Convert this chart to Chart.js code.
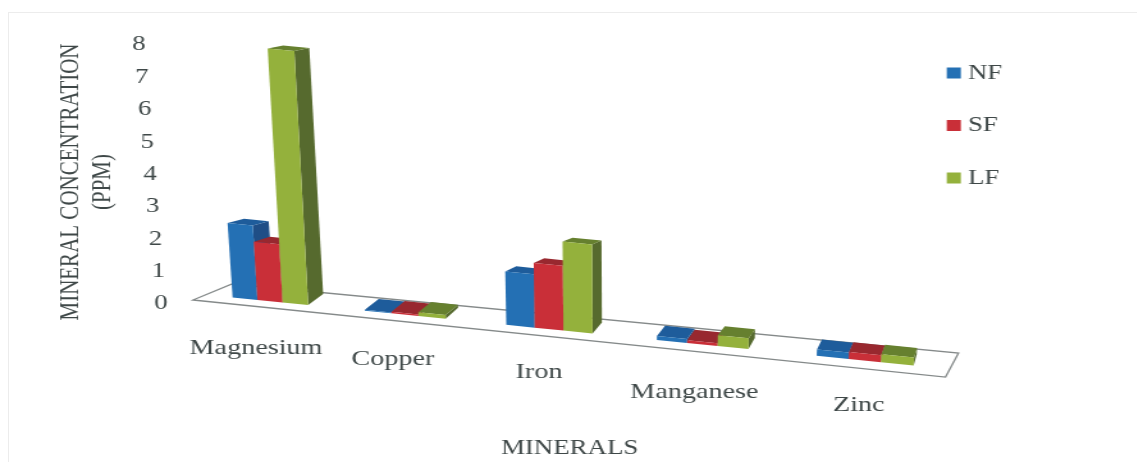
<!DOCTYPE html>
<html>
<head>
<meta charset="utf-8">
<script src="https://cdn.jsdelivr.net/npm/chart.js@4"></script>
<style>
    html, body { margin: 0; background: #fff; overflow: hidden; }
    #frame { position: absolute; left: 8px; top: 12px; right: 0; bottom: 0; border-left: 1px solid #ececec; border-top: 1px solid #ececec; }
    #wrap { position: absolute; left: 0; top: 0; width: 888px; height: 462px; transform: scaleX(1.28); transform-origin: 0 0; filter: blur(0.5px); }
</style>
</head>
<body>
<div id="frame"></div>
<div id="wrap"><canvas id="chart" width="888" height="462"></canvas></div>
<script>
const categories = ['Magnesium', 'Copper', 'Iron', 'Manganese', 'Zinc'];
const seriesNames = ['NF', 'SF', 'LF'];
const nf = [2.3, 0.03, 1.65, 0.12, 0.2];
const sf = [1.8, 0.05, 2.0, 0.08, 0.22];
const lf = [7.85, 0.12, 2.75, 0.33, 0.25];
const yTicks = [0, 1, 2, 3, 4, 5, 6, 7, 8];
const frontColors = ['#2470b4', '#c92f38', '#94b13c'];
const topColors = ['#1e5c9b', '#98282f', '#66802f'];
const sideColors = ['#1f4e86', '#8a2429', '#566a2e'];

const STRETCH = 1.28;      // the whole picture is wider than it is drawn
const textFont = '21px "Liberation Serif"';
const textColor = '#3f4848';

// turn a flat x pixel into the screen x of the slanted floor
function floorX(flatX, area) {
    const i = (flatX - area.left) / area.width * 5 - 0.5;
    return 270 + 130.3 * i + 4.6 * i * i;
}

// front corner of a bar at height h above the floor
function front(X, h) {
    return { x: (X + (X - 620) * 0.000175 * h) / STRETCH, y: 293.5 + 0.1 * (X - 193) - h };
}

// same corner pushed to the back of the bar
function back(X, h) {
    const p = front(X, h);
    const dx = Math.max(3, 15 - 0.0197 * (X - 307));
    return { x: p.x + dx / STRETCH, y: p.y - 3 - 8 * Math.exp(-h / 40) };
}

function poly(ctx, pts, color) {
    ctx.fillStyle = color;
    ctx.beginPath();
    pts.forEach((p, n) => n ? ctx.lineTo(p.x, p.y) : ctx.moveTo(p.x, p.y));
    ctx.closePath();
    ctx.fill();
}

const slantedChart = {
    id: 'slantedChart',
    beforeDatasetsDraw(chart) {
        const ctx = chart.ctx;
        const area = chart.chartArea;

        // floor
        const left = floorX(area.left, area) - 13;
        const right = floorX(area.right, area) - 4;
        const floorY = X => 300 + 0.1024 * (X - 193);
        ctx.save();
        ctx.strokeStyle = '#858a8a';
        ctx.lineWidth = 1.3;
        ctx.beginPath();
        ctx.moveTo(left / STRETCH, floorY(left));
        ctx.lineTo(right / STRETCH, floorY(right));
        ctx.lineTo((right + 13) / STRETCH, floorY(right) - 24);
        ctx.lineTo((left + 39) / STRETCH, floorY(left) - 16);
        ctx.closePath();
        ctx.stroke();

        // bars, left to right so each one covers the side of the one before
        categories.forEach((c, j) => {
            chart.data.datasets.forEach((ds, d) => {
                const el = chart.getDatasetMeta(d).data[j];
                const h = el.base - el.y;
                const XL = floorX(el.x - el.width / 2, area);
                const XR = floorX(el.x + el.width / 2, area);
                poly(ctx, [front(XR, h), front(XR, 0), back(XR, 0), back(XR, h)], sideColors[d]);
                poly(ctx, [front(XL, h), front(XR, h), back(XR, h), back(XL, h)], topColors[d]);
                poly(ctx, [front(XL, 0), front(XR, 0), front(XR, h), front(XL, h)], frontColors[d]);
            });
        });

        // tick labels
        ctx.font = textFont;
        ctx.fillStyle = textColor;
        ctx.textAlign = 'center';
        ctx.textBaseline = 'middle';
        const yScale = chart.scales.y;
        yTicks.forEach(v => {
            ctx.fillText(String(v), (139 + (8 - v) * 2.75) / STRETCH, yScale.getPixelForValue(v) + 1);
        });
        ctx.font = '22px "Liberation Serif"';
        const xScale = chart.scales.x;
        const labelDrop = [40, 38, 36, 40, 36];
        categories.forEach((c, j) => {
            const X = floorX(xScale.getPixelForValue(j), area);
            ctx.fillText(c, (X - 14 + j * 2) / STRETCH, floorY(X) + labelDrop[j]);
        });

        // y axis title
        ctx.font = textFont;
        ctx.translate(55, 182);
        ctx.rotate(-Math.PI / 2);
        ctx.fillText('MINERAL CONCENTRATION', 0, 0);
        ctx.fillText('(PPM)', 0, 25);
        ctx.restore();
        return false;
    }
};

const chart = new Chart(document.getElementById('chart'), {
    type: 'bar',
    data: {
        labels: categories,
        datasets: [nf, sf, lf].map((values, d) => ({
            label: seriesNames[d],
            data: values,
            backgroundColor: frontColors[d]
        }))
    },
    options: {
        responsive: false,
        animation: false,
        layout: { padding: { left: 169, right: 95, top: 31, bottom: 1 } },
        datasets: { bar: { categoryPercentage: 0.58, barPercentage: 1 } },
        plugins: {
            tooltip: { enabled: false },
            legend: {
                position: 'right',
                align: 'start',
                labels: {
                    usePointStyle: true,
                    pointStyle: 'rect',
                    boxWidth: 1,
                    boxHeight: 11,
                    padding: 31.5,
                    color: textColor,
                    font: { family: 'Liberation Serif', size: 21 }
                }
            }
        },
        scales: {
            x: {
                grid: { display: false },
                border: { display: false },
                ticks: { display: false },
                title: {
                    display: true,
                    text: 'MINERALS',
                    color: textColor,
                    font: { family: 'Liberation Serif', size: 21 },
                    padding: { top: 125, bottom: 0 }
                }
            },
            y: {
                min: 0,
                max: 8.4,
                grid: { display: false },
                border: { display: false },
                ticks: { display: false, stepSize: 1 }
            }
        }
    },
    plugins: [slantedChart]
});
</script>
</body>
</html>
